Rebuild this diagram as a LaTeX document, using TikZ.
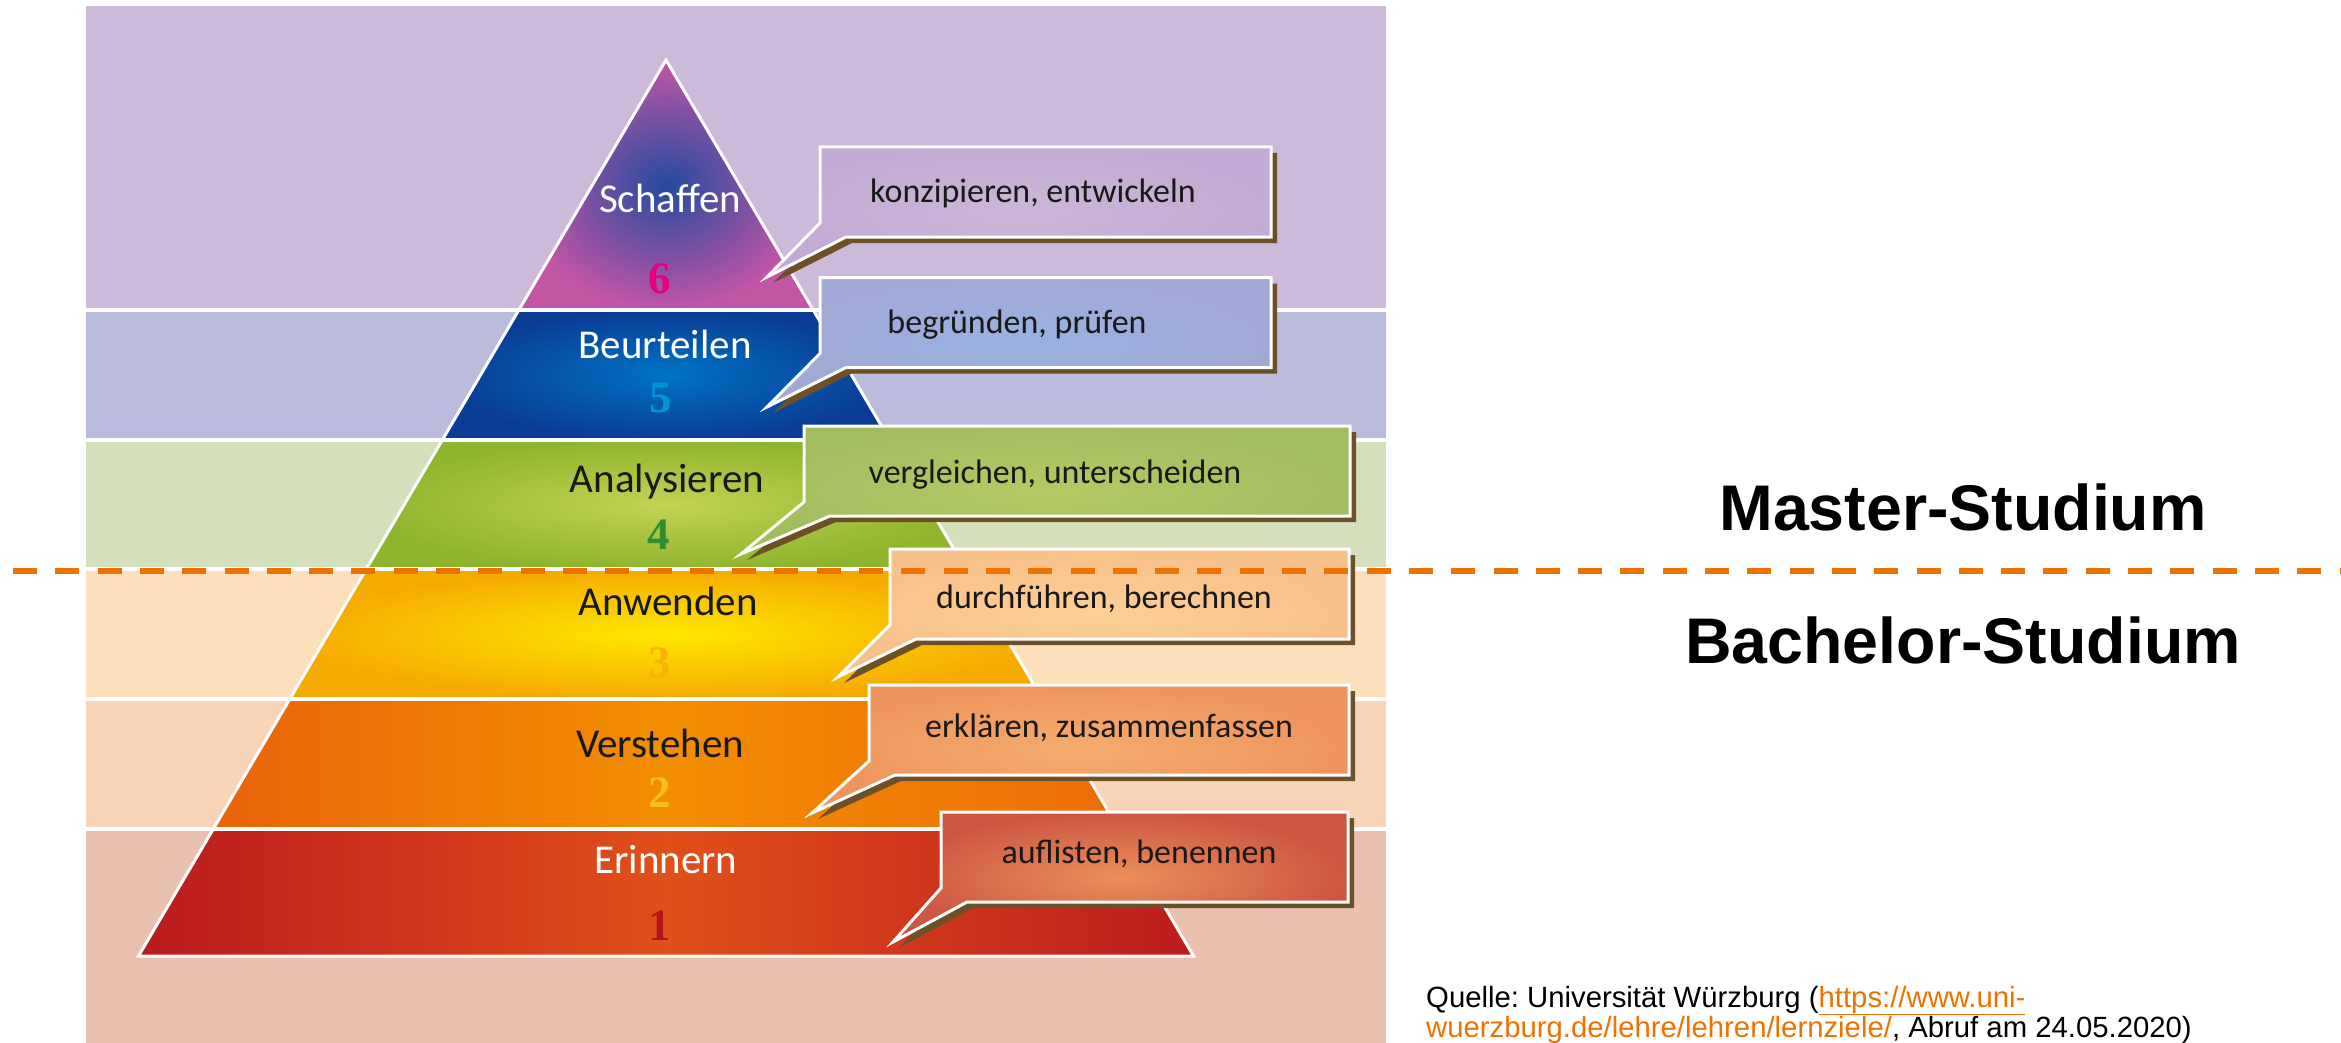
\documentclass[tikz,border=0pt]{standalone}
\usepackage{fontspec}
\newfontfamily\calfont{Carlito}
\newfontfamily\arialfont{Liberation Sans}
\newfontfamily\numfont{Liberation Serif}
\frenchspacing

\definecolor{bgsix}{RGB}{205,185,218}
\definecolor{bgfive}{RGB}{187,187,222}
\definecolor{bgfour}{RGB}{214,223,187}
\definecolor{bgthree}{RGB}{253,223,188}
\definecolor{bgtwo}{RGB}{250,212,183}
\definecolor{bgone}{RGB}{234,193,174}
\definecolor{cutorange}{RGB}{238,114,0}
\definecolor{shadowbrown}{RGB}{110,80,40}

%% callout outline: box node #1, tip #2
\newcommand{\Bubble}[2]{(#1.north west) -- (#1.north east) -- (#1.south east)
  -- ([xshift=26pt]#1.south west) -- (#2) -- ([yshift=14pt]#1.south west) -- cycle}

\begin{document}
\begin{tikzpicture}[x=1pt, y=-1pt,
  tier label/.style={font=\calfont\fontsize{41}{41}\selectfont, anchor=base, inner sep=0pt},
  tier num/.style={font=\numfont\bfseries\fontsize{45}{45}\selectfont, anchor=base, inner sep=0pt},
  bubble box/.style={minimum height=90pt, inner sep=0pt, outer sep=0pt},
  bubble/.style={draw=white, line width=3pt},
  bubble shadow/.style={fill=shadowbrown, transform canvas={shift={(6pt,-6pt)}}},
  bubble text/.style={font=\calfont\fontsize{34}{34}\selectfont, anchor=base, inner sep=0pt, text=black!90},
  band line/.style={white, line width=4pt},
  studium/.style={font=\arialfont\bfseries\fontsize{64.5}{64.5}\selectfont, anchor=base, inner sep=0pt},
  source/.style={font=\arialfont\fontsize{29.3}{29.3}\selectfont, anchor=base west, inner sep=0pt},
  cut line/.style={cutorange, line width=6pt, dash pattern=on 24pt off 18.3pt}]

  \useasboundingbox (0,0) rectangle (2341,1043);

  %% background bands
  \fill[bgsix]   (86,6)   rectangle (1386,310);
  \fill[bgfive]  (86,310) rectangle (1386,440);
  \fill[bgfour]  (86,440) rectangle (1386,569);
  \fill[bgthree] (86,569) rectangle (1386,699);
  \fill[bgtwo]   (86,699) rectangle (1386,829);
  \fill[bgone]   (86,829) rectangle (1386,1043);

  %% pyramid tiers
  \shade[inner color={rgb,255:red,35;green,75;blue,160}, outer color={rgb,255:red,195;green,85;blue,165}]
    (666,60) -- (812.2,310) -- (519.8,310) -- cycle; %% 6
  \shade[inner color={rgb,255:red,0;green,115;blue,195}, outer color={rgb,255:red,10;green,60;blue,150}]
    (519.8,310) -- (812.2,310) -- (889.7,440) -- (442.3,440) -- cycle; %% 5
  \shade[inner color={rgb,255:red,195;green,210;blue,85}, outer color={rgb,255:red,143;green,181;blue,46}]
    (442.3,440) -- (889.7,440) -- (965.6,569) -- (366.4,569) -- cycle; %% 4
  \shade[inner color={rgb,255:red,255;green,232;blue,0}, outer color={rgb,255:red,245;green,170;blue,0}]
    (366.4,569) -- (965.6,569) -- (1042.2,699) -- (289.8,699) -- cycle; %% 3
  \shade[left color={rgb,255:red,232;green,100;blue,10}, right color={rgb,255:red,235;green,108;blue,8}, middle color={rgb,255:red,243;green,142;blue,0}]
    (289.8,699) -- (1042.2,699) -- (1118.7,829) -- (213.3,829) -- cycle; %% 2
  \shade[left color={rgb,255:red,187;green,26;blue,30}, right color={rgb,255:red,188;green,28;blue,30}, middle color={rgb,255:red,224;green,80;blue,26}]
    (213.3,829) -- (1118.7,829) -- (1193.5,956) -- (138.5,956) -- cycle; %% 1

  %% white separators
  \draw[band line] (86,310) -- (1386,310);
  \draw[band line] (86,440) -- (1386,440);
  \draw[band line] (86,569) -- (1386,569);
  \draw[band line] (86,699) -- (1386,699);
  \draw[band line] (86,829) -- (1386,829);
  \draw[white, line width=3pt] (666,60) -- (1193.5,956) -- (138.5,956) -- cycle;

  %% tier labels
  \node[tier label, text=white] (l6) at (670,212) {Schaffen};
  \node[tier num, text={rgb,255:red,230;green,0;blue,126}] (n6) at (660,293) {6};
  \node[tier label, text=white] (l5) at (665,358) {Beurteilen};
  \node[tier num, text={rgb,255:red,0;green,150;blue,214}] (n5) at (661,412) {5};
  \node[tier label, text=black!90] (l4) at (667,492) {Analysieren};
  \node[tier num, text={rgb,255:red,48;green,140;blue,48}] (n4) at (659,549) {4};
  \node[tier label, text=black!90] (l3) at (668,615) {Anwenden};
  \node[tier num, text={rgb,255:red,246;green,180;blue,0}] (n3) at (660,677) {3};
  \node[tier label, text=black!90] (l2) at (660,757) {Verstehen};
  \node[tier num, text={rgb,255:red,248;green,192;blue,28}] (n2) at (660,807) {2};
  \node[tier label, text=white] (l1) at (666,873) {Erinnern};
  \node[tier num, text={rgb,255:red,180;green,20;blue,25}] (n1) at (660,940) {1};

  %% callout boxes and tips
  \node[bubble box, minimum width=451pt] (b6) at (1045.5,192) {};
  \node[bubble box, minimum width=451pt] (b5) at (1045.5,322.5) {};
  \node[bubble box, minimum width=546pt] (b4) at (1077,471) {};
  \node[bubble box, minimum width=459pt] (b3) at (1119.5,594) {};
  \node[bubble box, minimum width=480pt] (b2) at (1109,730) {};
  \node[bubble box, minimum width=407pt] (b1) at (1144.5,857) {};
  \coordinate (p6) at (767,277);
  \coordinate (p5) at (767,407);
  \coordinate (p4) at (741,554);
  \coordinate (p3) at (838,677);
  \coordinate (p2) at (812,813);
  \coordinate (p1) at (893,942);

  \fill[bubble shadow] \Bubble{b6}{p6};
  \shade[bubble, inner color={rgb,255:red,204;green,182;blue,216}, outer color={rgb,255:red,195;green,170;blue,212}] \Bubble{b6}{p6};
  \fill[bubble shadow] \Bubble{b5}{p5};
  \shade[bubble, inner color={rgb,255:red,152;green,178;blue,224}, outer color={rgb,255:red,162;green,168;blue,214}] \Bubble{b5}{p5};
  \fill[bubble shadow] \Bubble{b4}{p4};
  \shade[bubble, inner color={rgb,255:red,180;green,202;blue,100}, outer color={rgb,255:red,162;green,188;blue,96}] \Bubble{b4}{p4};
  \fill[bubble shadow] \Bubble{b3}{p3};
  \shade[bubble, inner color={rgb,255:red,252;green,208;blue,150}, outer color={rgb,255:red,248;green,192;blue,138}] \Bubble{b3}{p3};
  \fill[bubble shadow] \Bubble{b2}{p2};
  \shade[bubble, inner color={rgb,255:red,246;green,172;blue,110}, outer color={rgb,255:red,238;green,148;blue,94}] \Bubble{b2}{p2};
  \fill[bubble shadow] \Bubble{b1}{p1};
  \shade[bubble, inner color={rgb,255:red,236;green,142;blue,90}, outer color={rgb,255:red,204;green,86;blue,66}] \Bubble{b1}{p1};

  \node[bubble text] (c6) at (1033,203) {konzipieren, entwickeln};
  \node[bubble text] (c5) at (1017,333) {begründen, prüfen};
  \node[bubble text] (c4) at (1055,483) {vergleichen, unterscheiden};
  \node[bubble text] (c3) at (1104,608) {durchführen, berechnen};
  \node[bubble text] (c2) at (1109,737) {erklären, zusammenfassen};
  \node[bubble text] (c1) at (1139,863) {auflisten, benennen};

  %% master / bachelor cut
  \coordinate (cutL) at (13,571);
  \coordinate (cutR) at (2341,571);
  \draw[cut line] (cutL) -- (cutR);

  \node[studium] (master) at (1963,530) {Master-Studium};
  \node[studium] (bachelor) at (1963,663) {Bachelor-Studium};

  %% source
  \node[source] (quelle1) at (1426,1007) {Quelle: Universität Würzburg (\textcolor{cutorange}{\underline{https://www.uni-}}};
  \node[source] (quelle2) at (1426,1037) {\textcolor{cutorange}{\underline{wuerzburg.de/lehre/lehren/lernziele/}}, Abruf am 24.05.2020)};
\end{tikzpicture}
\end{document}
